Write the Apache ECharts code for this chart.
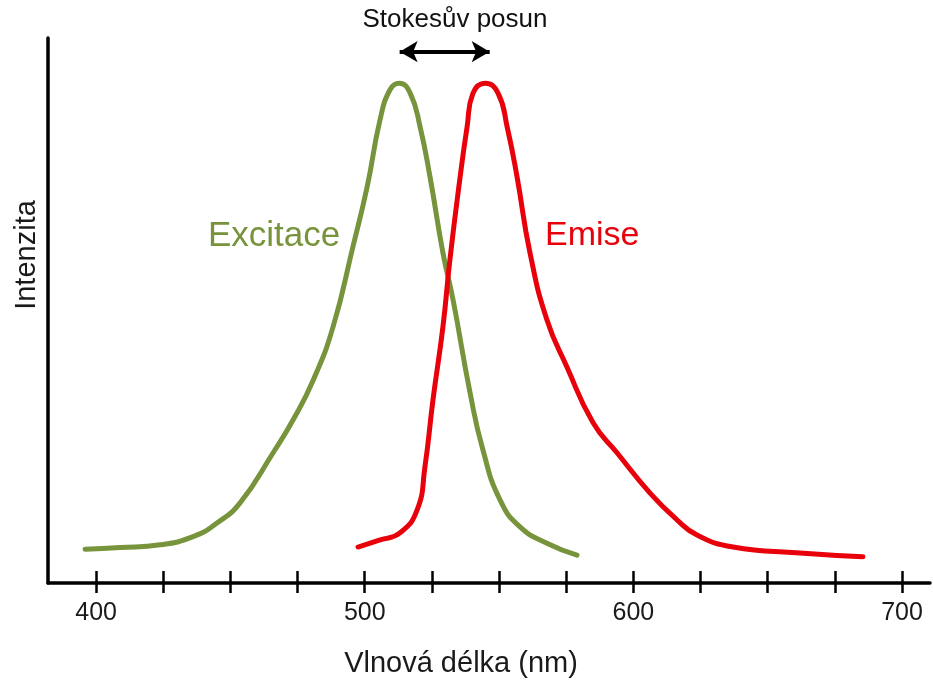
<!DOCTYPE html>
<html>
<head>
<meta charset="utf-8">
<script src="https://cdn.jsdelivr.net/npm/echarts@6/dist/echarts.min.js"></script>
<style>
  html, body { margin: 0; padding: 0; background: #fff; }
  #chart { width: 933px; height: 683px; }
</style>
</head>
<body>
<div id="chart"></div>
<script>
// Excitation spectrum: wavelength (nm) and relative intensity
const excitaceNm = [395.9, 408.9, 423.8, 436.1, 445.0, 453.6, 465.9, 473.3, 480.8, 488.2, 495.6, 500.9, 505.7, 509.4, 512.8, 516.9, 520.6, 524.3, 529.1, 532.9, 539.2, 544.0, 550.4, 557.8, 567.8, 579.0];
const excitaceVal = [6.2, 6.5, 7.0, 8.5, 11.0, 14.7, 23.9, 29.9, 37.2, 47.0, 61.7, 72.7, 85.0, 90.5, 91.7, 89.9, 83.7, 74.5, 60.6, 51.9, 34.9, 24.4, 15.2, 10.3, 7.3, 5.1];

// Emission spectrum
const emiseNm = [497.5, 505.7, 513.1, 519.5, 522.4, 525.4, 529.1, 531.7, 535.5, 538.1, 540.3, 544.8, 549.6, 553.0, 556.7, 561.5, 567.8, 575.3, 585.0, 593.9, 606.2, 616.2, 623.7, 637.1, 662.0, 685.4];
const emiseVal = [6.6, 7.9, 9.2, 13.4, 21.3, 33.6, 47.0, 59.3, 74.5, 83.7, 89.9, 91.7, 89.9, 83.7, 74.5, 60.6, 48.3, 39.6, 29.4, 23.9, 16.5, 11.6, 8.8, 6.6, 5.5, 4.8];

// Stokes shift: peak-to-peak arrow
const stokesFrom = [513, 97.5];
const stokesTo = [546.5, 97.5];

const tickValues = [400, 425, 450, 475, 500, 525, 550, 575, 600, 625, 650, 675, 700];
const labelValues = [400, 500, 600, 700];

const FONT = '"Liberation Sans", Arial, sans-serif';
const GREEN = '#77933c';
const RED = '#e8000a';

const zip = (xs, ys) => xs.map((x, i) => [x, ys[i]]);

const chart = echarts.init(document.getElementById('chart'), null, { renderer: 'canvas' });

chart.setOption({
  animation: false,
  backgroundColor: '#ffffff',
  grid: { left: 48, right: 3, top: 38, bottom: 100 },
  xAxis: [
    {
      type: 'value', min: 382.1, max: 710.4, position: 'bottom',
      splitLine: { show: false },
      axisLine: { show: true, lineStyle: { color: '#000', width: 3.5 } },
      axisTick: { show: true, inside: true, length: 12, customValues: tickValues, lineStyle: { color: '#000', width: 2.5 } },
      axisLabel: { show: false }
    },
    {
      type: 'value', min: 382.1, max: 710.4, position: 'bottom',
      splitLine: { show: false },
      axisLine: { show: false },
      axisTick: { show: true, inside: false, length: 10, customValues: tickValues, lineStyle: { color: '#000', width: 2.5 } },
      axisLabel: { show: true, customValues: labelValues, margin: 18, color: '#1a1a1a', fontSize: 25, fontFamily: FONT }
    }
  ],
  yAxis: {
    type: 'value', min: 0, max: 100,
    splitLine: { show: false },
    axisLine: { show: true, lineStyle: { color: '#000', width: 3.5 } },
    axisTick: { show: false },
    axisLabel: { show: false }
  },
  series: [
    {
      name: 'Excitace', type: 'line', xAxisIndex: 0,
      data: zip(excitaceNm, excitaceVal),
      smooth: 0.5, showSymbol: false,
      lineStyle: { color: GREEN, width: 5, cap: 'round' }
    },
    {
      name: 'Emise', type: 'line', xAxisIndex: 0,
      data: zip(emiseNm, emiseVal),
      smooth: 0.5, showSymbol: false,
      lineStyle: { color: RED, width: 5, cap: 'round' },
      markLine: {
        silent: true,
        symbol: ['arrow', 'arrow'],
        symbolSize: [16, 18],
        label: { show: false },
        lineStyle: { color: '#000', width: 4, type: 'solid' },
        data: [[{ coord: stokesFrom }, { coord: stokesTo }]]
      }
    }
  ],
  graphic: [
    {
      type: 'text', x: 455, y: 20,
      style: { text: 'Stokesův posun', font: '26px ' + FONT, fill: '#111', align: 'center', verticalAlign: 'middle' }
    },
    {
      type: 'text', x: 208, y: 236,
      style: { text: 'Excitace', font: '35px ' + FONT, fill: GREEN, verticalAlign: 'middle' }
    },
    {
      type: 'text', x: 545, y: 236,
      style: { text: 'Emise', font: '34px ' + FONT, fill: RED, verticalAlign: 'middle' }
    },
    {
      type: 'text', x: 27, y: 255, rotation: Math.PI / 2,
      style: { text: 'Intenzita', font: '29px ' + FONT, fill: '#1a1a1a', align: 'center', verticalAlign: 'middle' }
    },
    {
      type: 'text', x: 461, y: 664,
      style: { text: 'Vlnová délka (nm)', font: '29px ' + FONT, fill: '#1a1a1a', align: 'center', verticalAlign: 'middle' }
    }
  ]
});
</script>
</body>
</html>
